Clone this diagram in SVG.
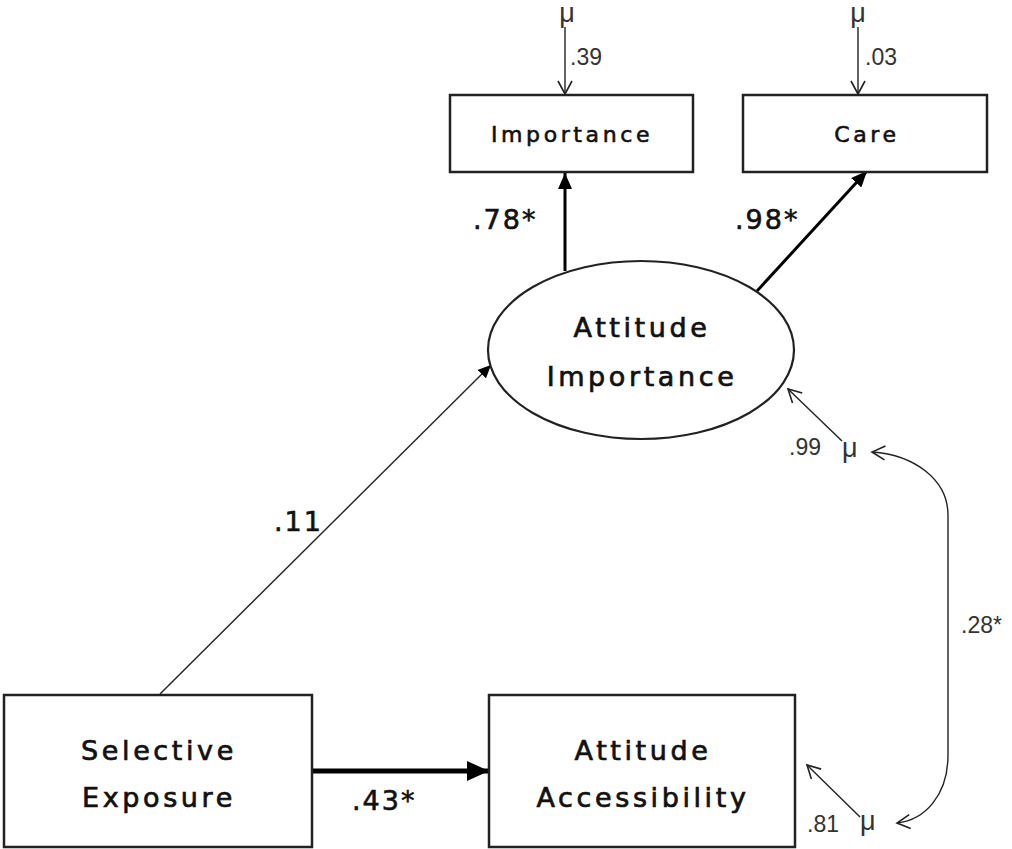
<svg xmlns="http://www.w3.org/2000/svg" width="1012" height="849" viewBox="0 0 1012 849">
<defs>
<style>
.box{fill:#fff;stroke:#222;stroke-width:2.5}
.node{font-family:"DejaVu Sans",sans-serif;font-size:27px;fill:#111;stroke:#111;stroke-width:0.7;text-anchor:middle;letter-spacing:3.6px}
.small{font-family:"DejaVu Sans",sans-serif;font-size:22px;fill:#111;stroke:#111;stroke-width:0.6;text-anchor:middle;letter-spacing:3.6px}
.coef{font-family:"DejaVu Sans",sans-serif;font-size:27px;fill:#111;stroke:#111;stroke-width:0.6;letter-spacing:2px}
.err{font-family:"Liberation Sans",Arial,sans-serif;font-size:23px;fill:#333}
.mu{font-family:"Liberation Sans",Arial,sans-serif;font-size:27px;fill:#333}
.thin{fill:none;stroke:#222;stroke-width:1.4}
.thick{fill:none;stroke:#000;stroke-width:3}
</style>
<marker id="fill" markerUnits="userSpaceOnUse" markerWidth="18" markerHeight="14" refX="16" refY="7" orient="auto"><path d="M0,0 L16,7 L0,14 z" fill="#000"/></marker>
<marker id="fillS" markerUnits="userSpaceOnUse" markerWidth="14" markerHeight="12" refX="13" refY="6" orient="auto"><path d="M0,0 L13,6 L0,12 z" fill="#000"/></marker>
<marker id="fillL" markerUnits="userSpaceOnUse" markerWidth="24" markerHeight="20" refX="22" refY="10" orient="auto"><path d="M0,0 L22,10 L0,20 z" fill="#000"/></marker>
<marker id="open" markerUnits="userSpaceOnUse" markerWidth="16" markerHeight="16" refX="14" refY="8" orient="auto"><path d="M1,1 L14,8 L1,15" fill="none" stroke="#222" stroke-width="1.6"/></marker>
<marker id="openS" markerUnits="userSpaceOnUse" markerWidth="16" markerHeight="16" refX="2" refY="8" orient="auto"><path d="M15,1 L2,8 L15,15" fill="none" stroke="#222" stroke-width="1.6"/></marker>
</defs>

<g id="connectors">
<line class="thin" x1="565" y1="27" x2="565" y2="94" marker-end="url(#open)"/>
<line class="thin" x1="858" y1="27" x2="858" y2="94" marker-end="url(#open)"/>
<line class="thick" x1="565" y1="271" x2="565" y2="173" marker-end="url(#fill)"/>
<line class="thick" x1="757" y1="291" x2="867" y2="171" marker-end="url(#fill)"/>
<line class="thin" x1="160" y1="694" x2="491" y2="365" marker-end="url(#fillS)"/>
<line x1="312" y1="771" x2="489" y2="771" stroke="#000" stroke-width="5" marker-end="url(#fillL)"/>
<line class="thin" x1="842" y1="441" x2="788" y2="389" marker-end="url(#open)"/>
<line class="thin" x1="860" y1="817" x2="807" y2="765" marker-end="url(#open)"/>
<path class="thin" d="M872,452 C915,455 948,480 948,515 L948,755 C948,795 925,820 897,823" marker-start="url(#openS)" marker-end="url(#open)"/>
</g>

<g id="err-importance">
<text class="mu" x="567" y="22" font-size="24" text-anchor="middle">μ</text>
<text class="err" x="570" y="65">.39</text>
</g>
<g id="err-care">
<text class="mu" x="858" y="22" font-size="24" text-anchor="middle">μ</text>
<text class="err" x="865" y="65">.03</text>
</g>

<g id="importance">
<rect class="box" x="450" y="95" width="243" height="77"/>
<text class="small" x="572" y="142">Importance</text>
</g>
<g id="care">
<rect class="box" x="743" y="95" width="244" height="77"/>
<text class="small" x="867" y="142">Care</text>
</g>

<g id="attitude-importance">
<ellipse cx="641" cy="350" rx="153" ry="89" fill="#fff" stroke="#222" stroke-width="2.2"/>
<text class="node" x="642" y="337">Attitude</text>
<text class="node" x="642" y="386">Importance</text>
</g>

<g id="selective-exposure">
<rect class="box" x="4" y="695" width="308" height="152"/>
<text class="node" x="159" y="760">Selective</text>
<text class="node" x="159" y="807">Exposure</text>
</g>

<g id="attitude-accessibility">
<rect class="box" x="489" y="695" width="306" height="152"/>
<text class="node" x="643" y="760">Attitude</text>
<text class="node" x="643" y="807">Accessibility</text>
</g>

<g id="labels">
<text class="coef" x="473" y="229">.78*</text>
<text class="coef" x="735" y="229">.98*</text>
<text class="coef" x="274" y="531">.11</text>
<text class="coef" x="352" y="810">.43*</text>
<text class="err" x="961" y="633" font-size="26">.28*</text>
<text class="err" x="789" y="455">.99</text>
<text class="mu" x="842" y="457">μ</text>
<text class="err" x="807" y="832">.81</text>
<text class="mu" x="860" y="830">μ</text>
</g>
</svg>
